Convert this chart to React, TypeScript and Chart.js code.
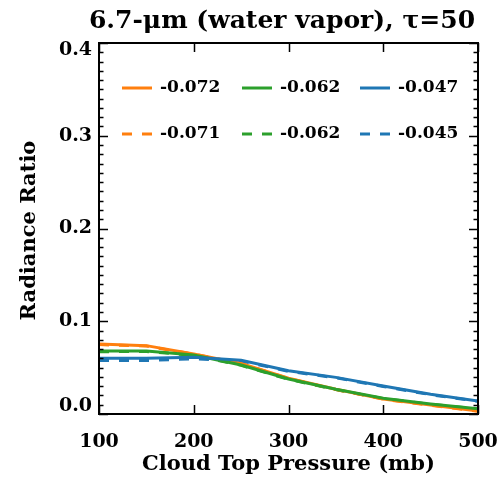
import React, { useEffect, useRef } from "react";
import { Chart, registerables } from "chart.js";

Chart.register(...registerables);

const pressures = [100, 150, 200, 250, 300, 350, 400, 450, 500];
const orangeSolid = [0.0755, 0.0737, 0.0647, 0.0546, 0.0385, 0.0266, 0.0162, 0.0097, 0.0032];
const greenSolid = [0.068, 0.068, 0.0636, 0.0528, 0.0377, 0.0266, 0.0169, 0.0108, 0.0057];
const blueSolid = [0.060, 0.060, 0.0611, 0.058, 0.0467, 0.0395, 0.0302, 0.0212, 0.014];
const orangeDashed = [0.0748, 0.0732, 0.0645, 0.0544, 0.0383, 0.0263, 0.0160, 0.0094, 0.0030];
const greenDashed = [0.0672, 0.0674, 0.0632, 0.0525, 0.0374, 0.0263, 0.0166, 0.0105, 0.0054];
const blueDashed = [0.0577, 0.0577, 0.0595, 0.0572, 0.0460, 0.0390, 0.0297, 0.0208, 0.0137];
const legendLabels = ["-0.072", "-0.062", "-0.047", "-0.071", "-0.062", "-0.045"];
const xTicks = [100, 200, 300, 400, 500];
const yTicks = [0.0, 0.1, 0.2, 0.3, 0.4];
const titleText = "6.7-\u03bcm (water vapor), \u03c4=50";
const xTitle = "Cloud Top Pressure (mb)";
const yTitle = "Radiance Ratio";

const ORANGE = "#ff7f0e";
const GREEN = "#2ca02c";
const BLUE = "#1f77b4";
const FONT = "'DejaVu Serif'";

export default function App() {
  const ref = useRef<HTMLCanvasElement | null>(null);
  useEffect(() => {
    document.body.style.margin = "0";
    const canvas = ref.current!;
    const mk = (vals: number[]) => pressures.map((p, i) => ({ x: p, y: vals[i] }));
    const series = [
      { data: orangeSolid, color: ORANGE, dash: [] as number[], order: 3 },
      { data: greenSolid, color: GREEN, dash: [] as number[], order: 2 },
      { data: blueSolid, color: BLUE, dash: [] as number[], order: 1 },
      { data: orangeDashed, color: ORANGE, dash: [10, 10], order: 6 },
      { data: greenDashed, color: GREEN, dash: [10, 10], order: 5 },
      { data: blueDashed, color: BLUE, dash: [10, 10], order: 4 },
    ];
    const decor = {
      id: "decor",
      afterDraw(chart: any) {
        const ctx = chart.ctx;
        const xs = chart.scales.x;
        const ys = chart.scales.y;
        const { left, right, top, bottom } = chart.chartArea;
        ctx.save();
        ctx.strokeStyle = "#000";
        ctx.lineWidth = 2;
        ctx.strokeRect(left, top, right - left, bottom - top);
        ctx.lineWidth = 1.5;
        ctx.beginPath();
        for (const t of xTicks) {
          const px = Math.round(xs.getPixelForValue(t)) + 0.5;
          ctx.moveTo(px, bottom); ctx.lineTo(px, bottom - 9);
          ctx.moveTo(px, top); ctx.lineTo(px, top + 9);
        }
        for (let k = 0; k <= 40; k++) {
          const v = k / 100;
          const py = Math.round(ys.getPixelForValue(v)) + 0.5;
          const len = k % 10 === 0 ? 9 : 4.5;
          ctx.moveTo(left, py); ctx.lineTo(left + len, py);
          ctx.moveTo(right, py); ctx.lineTo(right - len, py);
        }
        ctx.stroke();
        ctx.fillStyle = "#000";
        ctx.font = `bold 19px ${FONT}`;
        ctx.textAlign = "center";
        ctx.textBaseline = "middle";
        for (const t of xTicks) {
          ctx.fillText(String(t), xs.getPixelForValue(t), 442);
        }
        ctx.textAlign = "right";
        for (const t of yTicks) {
          let py = ys.getPixelForValue(t);
          if (t === 0) py -= 8;
          if (t === 0.4) py += 7;
          ctx.fillText(t.toFixed(1), 92, py);
        }
        ctx.textAlign = "center";
        ctx.font = `bold 21px ${FONT}`;
        ctx.fillText(xTitle, (left + right) / 2, 465);
        ctx.save();
        ctx.translate(30, (top + bottom) / 2 + 2);
        ctx.rotate(-Math.PI / 2);
        ctx.fillText(yTitle, 0, 0);
        ctx.restore();
        ctx.font = `bold 25px ${FONT}`;
        ctx.fillText(titleText, 282, 21);
        // legend
        const cols = [122, 242, 360];
        const rows = [88, 134];
        ctx.font = `bold 17px ${FONT}`;
        ctx.textAlign = "left";
        series.forEach((s, i) => {
          const r = Math.floor(i / 3);
          const c = i % 3;
          const x0 = cols[c];
          const y0 = rows[r];
          ctx.strokeStyle = s.color;
          ctx.lineWidth = 3;
          ctx.setLineDash(s.dash);
          ctx.beginPath();
          ctx.moveTo(x0, y0);
          ctx.lineTo(x0 + 30, y0);
          ctx.stroke();
          ctx.setLineDash([]);
          ctx.fillStyle = "#000";
          ctx.fillText(legendLabels[i], x0 + 38, y0);
        });
        ctx.restore();
      },
    };
    const chart = new Chart(canvas, {
      type: "line",
      data: {
        datasets: series.map((s, i) => ({
          label: legendLabels[i],
          data: mk(s.data),
          borderColor: s.color,
          backgroundColor: s.color,
          borderWidth: 3,
          borderDash: s.dash,
          pointRadius: 0,
          tension: 0,
          fill: false,
          order: s.order,
        })),
      },
      options: {
        animation: false,
        responsive: false,
        maintainAspectRatio: false,
        layout: { padding: { left: 99, right: 21, top: 43, bottom: 68 } },
        plugins: { legend: { display: false }, tooltip: { enabled: false } },
        scales: {
          x: { type: "linear", min: 100, max: 500, display: false },
          y: { type: "linear", min: 0, max: 0.4, display: false },
        },
      },
      plugins: [decor],
    });
    return () => chart.destroy();
  }, []);
  return <canvas ref={ref} width={499} height={482} style={{ display: "block" }} />;
}
